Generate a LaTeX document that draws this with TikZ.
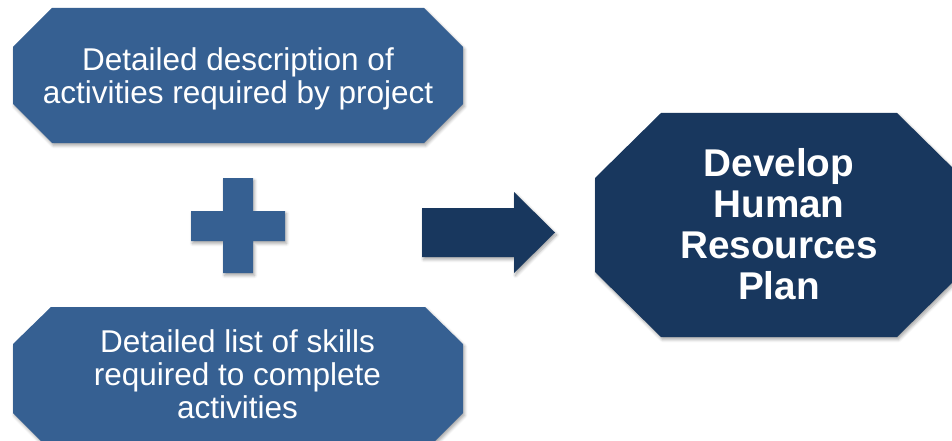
\documentclass[tikz,border=0pt]{standalone}
\usepackage{fontspec}
\setmainfont{Liberation Sans}
\usetikzlibrary{shadows.blur}
\definecolor{lightblue}{RGB}{54,96,146}
\definecolor{darkblue}{RGB}{24,55,94}
\tikzset{
  shape shadow/.style={blur shadow={shadow xshift=1.5pt, shadow yshift=-2.5pt, shadow blur radius=3pt, shadow blur steps=6, shadow opacity=35}},
  lightshape/.style={fill=lightblue, shape shadow},
  darkshape/.style={fill=darkblue, shape shadow},
  smalltext/.style={text=white, align=center, inner sep=0pt, font=\fontsize{31.5pt}{33pt}\selectfont},
  bigtext/.style={text=white, align=center, inner sep=0pt, font=\fontsize{38.7pt}{41pt}\selectfont\bfseries}
}
\begin{document}
\begin{tikzpicture}[x=1pt, y=-1pt]
\useasboundingbox (0,0) rectangle (952,441);
\clip (0,0) rectangle (952,441);
% top octagon
\path[lightshape] (13,47) -- (52,8) -- (424,8) -- (463,47) -- (463,104) -- (424,143) -- (52,143) -- (13,104) -- cycle;
\node[smalltext] (desc) at (238,79) {Detailed description of\\activities required by project};
% bottom octagon
\path[lightshape] (13,344) -- (51,307) -- (425,307) -- (463,344) -- (463,413) -- (424,452) -- (52,452) -- (13,413) -- cycle;
\node[smalltext] (skills) at (237.5,374.5) {Detailed list of skills\\required to complete\\activities};
% plus sign
\path[lightshape] (223,178) -- (253,178) -- (253,211) -- (285,211) -- (285,241) -- (253,241) -- (253,273) -- (223,273) -- (223,241) -- (191,241) -- (191,211) -- (223,211) -- cycle;
% arrow
\path[darkshape] (422,208) -- (514,208) -- (514,192) -- (555,232.5) -- (514,273) -- (514,257) -- (422,257) -- cycle;
% right octagon
\path[darkshape] (595,178) -- (661,113) -- (897,113) -- (963,178) -- (963,272) -- (897,337) -- (661,337) -- (595,272) -- cycle;
\node[bigtext] (plan) at (779,224.5) {Develop\\Human\\Resources\\Plan};
\end{tikzpicture}
\end{document}
